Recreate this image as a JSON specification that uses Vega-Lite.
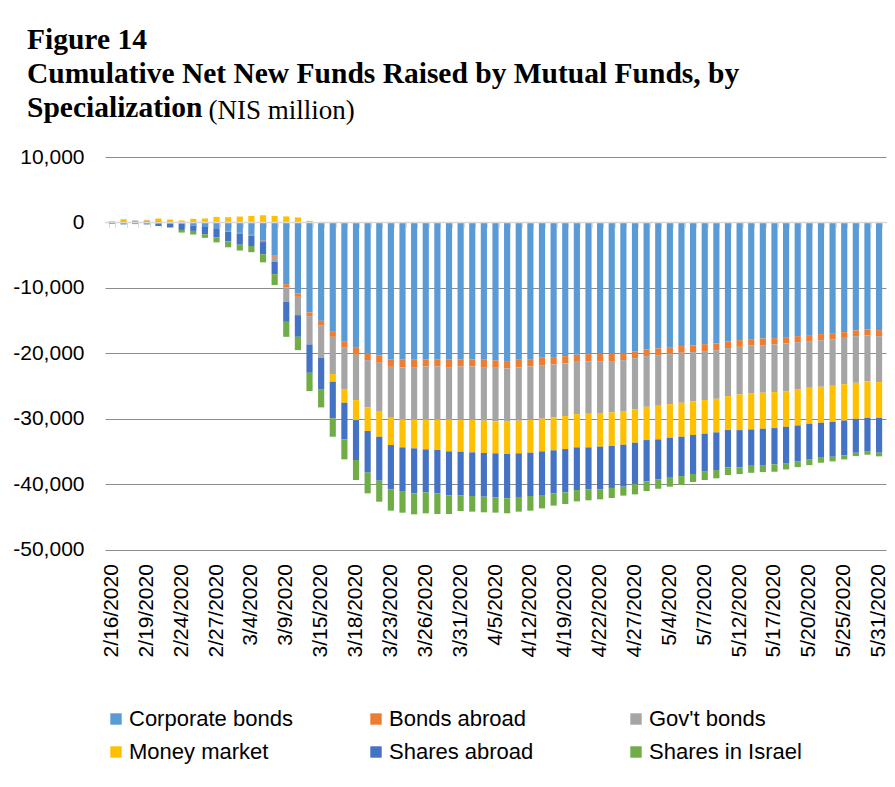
{
  "$schema": "https://vega.github.io/schema/vega-lite/v6.json",
  "width": 781,
  "height": 392.6,
  "autosize": {"type": "none"},
  "padding": {"left": 105, "top": 157, "right": 9, "bottom": 237.4},
  "background": "white",
  "config": {"view": {"stroke": null}, "font": "Liberation Sans"},
  "title": {
    "text": ["Figure 14", "Cumulative Net New Funds Raised by Mutual Funds, by", "Specialization"],
    "anchor": "start",
    "frame": "group",
    "font": "Liberation Serif",
    "fontSize": 29.5,
    "fontWeight": "bold",
    "color": "#000000",
    "lineHeight": 34,
    "baseline": "alphabetic",
    "offset": 0,
    "dx": -78,
    "dy": 50
  },
  "data": {
    "values": [
      {"d": "2/16/2020", "cb": -100, "ba": 0, "gb": 150, "mm": 50, "sa": -100, "si": 0},
      {"d": "2/17/2020", "cb": -150, "ba": 0, "gb": 200, "mm": 300, "sa": -150, "si": 0},
      {"d": "2/18/2020", "cb": -150, "ba": 0, "gb": 300, "mm": 0, "sa": -100, "si": 0},
      {"d": "2/19/2020", "cb": -150, "ba": 0, "gb": 300, "mm": 100, "sa": -150, "si": 0},
      {"d": "2/20/2020", "cb": -150, "ba": 0, "gb": 200, "mm": 400, "sa": -400, "si": 0},
      {"d": "2/23/2020", "cb": -200, "ba": 0, "gb": 200, "mm": 250, "sa": -500, "si": -100},
      {"d": "2/24/2020", "cb": -200, "ba": 0, "gb": 0, "mm": 300, "sa": -950, "si": -400},
      {"d": "2/25/2020", "cb": -500, "ba": 0, "gb": 200, "mm": 350, "sa": -800, "si": -550},
      {"d": "2/26/2020", "cb": -700, "ba": 0, "gb": 0, "mm": 600, "sa": -1100, "si": -550},
      {"d": "2/27/2020", "cb": -900, "ba": 0, "gb": 0, "mm": 850, "sa": -1400, "si": -750},
      {"d": "3/1/2020", "cb": -1300, "ba": 0, "gb": -150, "mm": 800, "sa": -1450, "si": -900},
      {"d": "3/3/2020", "cb": -1600, "ba": -150, "gb": 0, "mm": 900, "sa": -1650, "si": -900},
      {"d": "3/4/2020", "cb": -1900, "ba": -150, "gb": 0, "mm": 1000, "sa": -1550, "si": -950},
      {"d": "3/5/2020", "cb": -2800, "ba": -200, "gb": 0, "mm": 1100, "sa": -1850, "si": -1250},
      {"d": "3/8/2020", "cb": -5010, "ba": -250, "gb": -760, "mm": 1000, "sa": -1880, "si": -1680},
      {"d": "3/9/2020", "cb": -9440, "ba": -510, "gb": -2190, "mm": 920, "sa": -3050, "si": -2290},
      {"d": "3/11/2020", "cb": -10860, "ba": -510, "gb": -2800, "mm": 760, "sa": -3310, "si": -2040},
      {"d": "3/12/2020", "cb": -13760, "ba": -560, "gb": -4330, "mm": 250, "sa": -4330, "si": -2800},
      {"d": "3/15/2020", "cb": -15040, "ba": -660, "gb": -4990, "mm": 50, "sa": -4780, "si": -2800},
      {"d": "3/16/2020", "cb": -16610, "ba": -870, "gb": -5700, "mm": -1170, "sa": -5600, "si": -2800},
      {"d": "3/17/2020", "cb": -18140, "ba": -920, "gb": -6410, "mm": -2090, "sa": -5600, "si": -3050},
      {"d": "3/18/2020", "cb": -19160, "ba": -1070, "gb": -6920, "mm": -3050, "sa": -6110, "si": -3050},
      {"d": "3/19/2020", "cb": -19970, "ba": -1070, "gb": -7230, "mm": -3610, "sa": -6360, "si": -3160},
      {"d": "3/22/2020", "cb": -20330, "ba": -1120, "gb": -7480, "mm": -3820, "sa": -6720, "si": -3210},
      {"d": "3/23/2020", "cb": -20940, "ba": -1120, "gb": -7790, "mm": -4170, "sa": -6770, "si": -3260},
      {"d": "3/24/2020", "cb": -20940, "ba": -1220, "gb": -7940, "mm": -4280, "sa": -6670, "si": -3310},
      {"d": "3/25/2020", "cb": -20990, "ba": -1120, "gb": -7990, "mm": -4430, "sa": -6870, "si": -3210},
      {"d": "3/26/2020", "cb": -20940, "ba": -1070, "gb": -8090, "mm": -4580, "sa": -6570, "si": -3210},
      {"d": "3/29/2020", "cb": -20940, "ba": -1070, "gb": -8090, "mm": -4680, "sa": -6620, "si": -3160},
      {"d": "3/30/2020", "cb": -20940, "ba": -1170, "gb": -7990, "mm": -4890, "sa": -6720, "si": -2850},
      {"d": "3/31/2020", "cb": -20940, "ba": -1070, "gb": -8190, "mm": -4840, "sa": -6670, "si": -2390},
      {"d": "4/1/2020", "cb": -20940, "ba": -1070, "gb": -8190, "mm": -4940, "sa": -6670, "si": -2390},
      {"d": "4/2/2020", "cb": -20990, "ba": -1120, "gb": -8190, "mm": -4940, "sa": -6670, "si": -2390},
      {"d": "4/5/2020", "cb": -21090, "ba": -1120, "gb": -8190, "mm": -4890, "sa": -6720, "si": -2340},
      {"d": "4/6/2020", "cb": -21190, "ba": -1120, "gb": -8140, "mm": -4940, "sa": -6770, "si": -2290},
      {"d": "4/7/2020", "cb": -20990, "ba": -1170, "gb": -8140, "mm": -4990, "sa": -6670, "si": -2240},
      {"d": "4/12/2020", "cb": -20890, "ba": -1120, "gb": -8190, "mm": -4990, "sa": -6620, "si": -2240},
      {"d": "4/13/2020", "cb": -20690, "ba": -1120, "gb": -8190, "mm": -4990, "sa": -6670, "si": -2040},
      {"d": "4/14/2020", "cb": -20580, "ba": -1120, "gb": -8090, "mm": -5040, "sa": -6570, "si": -1880},
      {"d": "4/19/2020", "cb": -20430, "ba": -1120, "gb": -8040, "mm": -5040, "sa": -6620, "si": -1780},
      {"d": "4/20/2020", "cb": -20230, "ba": -1070, "gb": -7990, "mm": -5090, "sa": -6520, "si": -1730},
      {"d": "4/21/2020", "cb": -20130, "ba": -1120, "gb": -7990, "mm": -5140, "sa": -6410, "si": -1680},
      {"d": "4/22/2020", "cb": -20070, "ba": -1170, "gb": -7890, "mm": -5140, "sa": -6520, "si": -1530},
      {"d": "4/23/2020", "cb": -20070, "ba": -1120, "gb": -7840, "mm": -5140, "sa": -6410, "si": -1530},
      {"d": "4/26/2020", "cb": -19970, "ba": -1070, "gb": -7790, "mm": -5140, "sa": -6410, "si": -1370},
      {"d": "4/27/2020", "cb": -19720, "ba": -1020, "gb": -7840, "mm": -5090, "sa": -6310, "si": -1580},
      {"d": "4/28/2020", "cb": -19410, "ba": -1020, "gb": -7740, "mm": -5090, "sa": -6310, "si": -1480},
      {"d": "5/3/2020", "cb": -19260, "ba": -1020, "gb": -7740, "mm": -5140, "sa": -6110, "si": -1430},
      {"d": "5/4/2020", "cb": -19060, "ba": -1070, "gb": -7640, "mm": -5140, "sa": -6110, "si": -1370},
      {"d": "5/5/2020", "cb": -18900, "ba": -1020, "gb": -7640, "mm": -5190, "sa": -6010, "si": -1370},
      {"d": "5/6/2020", "cb": -18800, "ba": -1020, "gb": -7530, "mm": -5140, "sa": -5960, "si": -1220},
      {"d": "5/7/2020", "cb": -18600, "ba": -1070, "gb": -7480, "mm": -5140, "sa": -5800, "si": -1270},
      {"d": "5/10/2020", "cb": -18500, "ba": -1020, "gb": -7430, "mm": -5140, "sa": -5750, "si": -1270},
      {"d": "5/11/2020", "cb": -18190, "ba": -1020, "gb": -7330, "mm": -5190, "sa": -5700, "si": -1170},
      {"d": "5/12/2020", "cb": -17990, "ba": -1020, "gb": -7280, "mm": -5450, "sa": -5700, "si": -1020},
      {"d": "5/13/2020", "cb": -17840, "ba": -920, "gb": -7330, "mm": -5550, "sa": -5550, "si": -1070},
      {"d": "5/14/2020", "cb": -17730, "ba": -1020, "gb": -7280, "mm": -5500, "sa": -5550, "si": -1070},
      {"d": "5/17/2020", "cb": -17680, "ba": -970, "gb": -7280, "mm": -5500, "sa": -5550, "si": -1120},
      {"d": "5/18/2020", "cb": -17530, "ba": -970, "gb": -7280, "mm": -5450, "sa": -5550, "si": -970},
      {"d": "5/19/2020", "cb": -17380, "ba": -920, "gb": -7180, "mm": -5550, "sa": -5450, "si": -920},
      {"d": "5/20/2020", "cb": -17220, "ba": -920, "gb": -7130, "mm": -5500, "sa": -5400, "si": -920},
      {"d": "5/21/2020", "cb": -17070, "ba": -920, "gb": -7130, "mm": -5500, "sa": -5340, "si": -760},
      {"d": "5/24/2020", "cb": -16920, "ba": -920, "gb": -7130, "mm": -5500, "sa": -5340, "si": -710},
      {"d": "5/25/2020", "cb": -16770, "ba": -870, "gb": -7080, "mm": -5550, "sa": -5340, "si": -610},
      {"d": "5/26/2020", "cb": -16510, "ba": -870, "gb": -7130, "mm": -5500, "sa": -5190, "si": -510},
      {"d": "5/27/2020", "cb": -16360, "ba": -920, "gb": -7020, "mm": -5550, "sa": -5090, "si": -560},
      {"d": "5/31/2020", "cb": -16460, "ba": -920, "gb": -7020, "mm": -5450, "sa": -5340, "si": -560}
    ]
  },
  "resolve": {"axis": {"x": "independent"}},
  "layer": [
    {
      "transform": [
        {"fold": ["cb", "ba", "gb", "mm", "sa", "si"], "as": ["series", "value"]},
        {"window": [{"op": "row_number", "as": "rn"}]}
      ],
      "mark": {"type": "bar"},
      "encoding": {
        "x": {
          "field": "d",
          "type": "nominal",
          "sort": null,
          "scale": {"paddingInner": 0.47, "paddingOuter": 0.33},
          "axis": {
            "values": ["2/16/2020", "2/19/2020", "2/24/2020", "2/27/2020", "3/4/2020", "3/9/2020", "3/15/2020", "3/18/2020", "3/23/2020", "3/26/2020", "3/31/2020", "4/5/2020", "4/12/2020", "4/19/2020", "4/22/2020", "4/27/2020", "5/4/2020", "5/7/2020", "5/12/2020", "5/17/2020", "5/20/2020", "5/25/2020", "5/31/2020"],
            "orient": "bottom",
            "labelAngle": 270,
            "labelFont": "Liberation Sans",
            "labelFontSize": 21,
            "labelColor": "#000000",
            "labelPadding": 14,
            "labelOverlap": false,
            "ticks": false,
            "domain": false,
            "grid": false,
            "title": null
          }
        },
        "y": {
          "field": "value",
          "type": "quantitative",
          "stack": "zero",
          "scale": {"domain": [-50000, 10000], "nice": false, "zero": false},
          "axis": {
            "values": [10000, 0, -10000, -20000, -30000, -40000, -50000],
            "grid": true,
            "gridColor": "#8c8c8c",
            "gridWidth": 1,
            "domain": false,
            "ticks": false,
            "labelPadding": 21,
            "labelFont": "Liberation Sans",
            "labelFontSize": 21,
            "labelColor": "#000000",
            "labelExpr": "datum.value < 0 ? '-' + format(-datum.value, ',') : format(datum.value, ',')",
            "title": "(NIS million)",
            "titleAngle": 0,
            "titleAlign": "left",
            "titleBaseline": "alphabetic",
            "titleX": 103,
            "titleY": -39,
            "titleFont": "Liberation Serif",
            "titleFontSize": 27,
            "titleFontWeight": "normal",
            "titleColor": "#000000"
          }
        },
        "color": {
          "field": "series",
          "type": "nominal",
          "scale": {
            "domain": ["cb", "ba", "gb", "mm", "sa", "si"],
            "range": ["#5B9BD5", "#ED7D31", "#A5A5A5", "#FFC000", "#4472C4", "#70AD47"]
          },
          "legend": {
            "orient": "none",
            "legendX": 0,
            "legendY": 551,
            "direction": "horizontal",
            "columns": 3,
            "gridAlign": "all",
            "columnPadding": 72,
            "rowPadding": 11,
            "padding": 0,
            "title": null,
            "symbolType": "square",
            "symbolSize": 130,
            "symbolStrokeWidth": 0,
            "symbolOpacity": 1,
            "labelFont": "Liberation Sans",
            "labelFontSize": 22,
            "labelColor": "#000000",
            "labelOffset": 2,
            "labelLimit": 0,
            "labelExpr": "{'cb': 'Corporate bonds', 'ba': 'Bonds abroad', 'gb': \"Gov't bonds\", 'mm': 'Money market', 'sa': 'Shares abroad', 'si': 'Shares in Israel'}[datum.label]"
          }
        },
        "order": {"field": "rn", "type": "quantitative"}
      }
    },
    {
      "data": {"values": [{}]},
      "mark": {"type": "rule", "color": "#D9D9D9", "strokeWidth": 1.5},
      "encoding": {"y": {"datum": 0}}
    },
    {
      "mark": {"type": "tick", "opacity": 0},
      "encoding": {
        "x": {
          "field": "d",
          "type": "nominal",
          "sort": null,
          "axis": {
            "orient": "bottom",
            "offset": -327.2,
            "labels": false,
            "ticks": true,
            "tickBand": "extent",
            "tickSize": 5,
            "tickWidth": 1,
            "tickColor": "#D9D9D9",
            "domain": false,
            "grid": false,
            "title": null
          }
        },
        "y": {"datum": 0}
      }
    }
  ]
}
